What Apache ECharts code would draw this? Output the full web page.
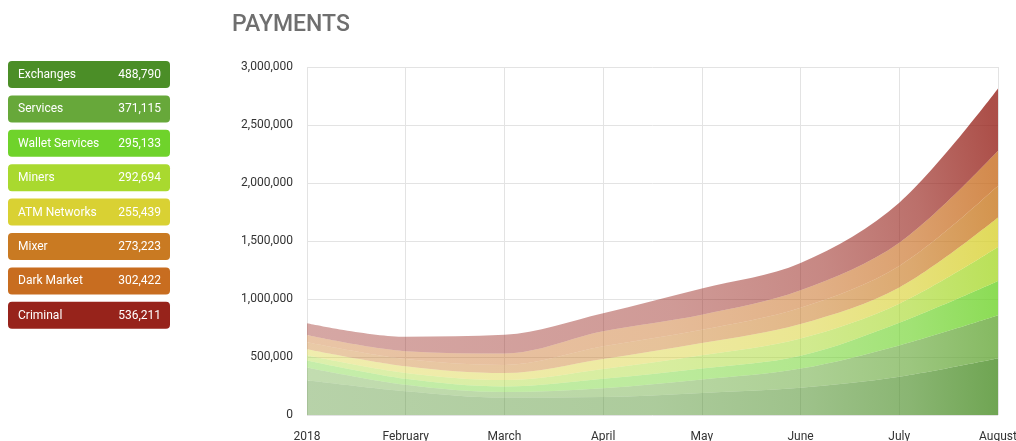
<!DOCTYPE html>
<html>
<head>
<meta charset="utf-8">
<script src="https://cdn.jsdelivr.net/npm/echarts@6/dist/echarts.min.js"></script>
<style>
html,body{margin:0;padding:0;background:#fff;}
#chart{width:1016px;height:441px;}
</style>
</head>
<body>
<div id="chart"></div>
<script>
const categories = ['2018','February','March','April','May','June','July','August'];
const seriesNames = ['Exchanges','Services','Wallet Services','Miners','ATM Networks','Mixer','Dark Market','Criminal'];
const exchanges      = [300000, 205000, 150000, 155000, 190000, 235000, 330000, 488790];
const services       = [110000,  55000,  48000,  75000, 115000, 165000, 270000, 371115];
const walletServices = [ 60000,  52000,  48000,  82000,  95000, 110000, 195000, 295133];
const miners         = [ 45000,  50000,  55000,  85000, 115000, 150000, 165000, 292694];
const atmNetworks    = [ 52000,  58000,  60000,  85000, 105000, 125000, 140000, 255439];
const mixer          = [ 60000,  62000,  70000, 110000, 115000, 140000, 185000, 273223];
const darkMarket     = [ 62000,  68000, 100000, 130000, 130000, 150000, 200000, 302422];
const criminal       = [103000, 125000, 160000, 155000, 225000, 235000, 345000, 536211];
const legendValues   = ['488,790','371,115','295,133','292,694','255,439','273,223','302,422','536,211'];
const colors = ['#4b8e27','#67a83a','#6fd32b','#a9d92f','#d9d133','#c97a22','#c86d20','#97231b'];

const seriesData = [exchanges, services, walletServices, miners, atmNetworks, mixer, darkMarket, criminal];

function rgba(hex, a) {
  const n = parseInt(hex.slice(1), 16);
  return 'rgba(' + ((n >> 16) & 255) + ',' + ((n >> 8) & 255) + ',' + (n & 255) + ',' + a + ')';
}

const chart = echarts.init(document.getElementById('chart'));

const legendGraphics = [];
seriesNames.forEach(function (name, i) {
  const top = 61 + i * 34.4;
  legendGraphics.push({
    type: 'rect',
    left: 8, top: top,
    shape: { width: 162, height: 27, r: 4 },
    style: { fill: colors[i] }
  });
  legendGraphics.push({
    type: 'text',
    left: 18, top: top + 8,
    style: { text: name, fill: '#ffffff', font: '12px Roboto, sans-serif' }
  });
  legendGraphics.push({
    type: 'text',
    right: 1016 - 161, top: top + 8,
    style: { text: legendValues[i], fill: '#ffffff', font: '12px Roboto, sans-serif', textAlign: 'right' }
  });
});

chart.setOption({
  animation: false,
  backgroundColor: '#ffffff',
  title: {
    text: 'PAYMENTS',
    left: 227, top: 9,
    textStyle: { color: '#6f6f6f', fontSize: 23, fontWeight: 500, fontFamily: 'Roboto, sans-serif' }
  },
  graphic: legendGraphics,
  grid: { left: 307, right: 18, top: 67, bottom: 26, containLabel: false, outerBoundsMode: 'none' },
  xAxis: {
    type: 'category',
    data: categories,
    boundaryGap: false,
    axisLine: { show: false },
    axisTick: { show: false },
    axisLabel: { color: '#333333', fontSize: 12, fontFamily: 'Roboto, sans-serif', margin: 16 },
    splitLine: { show: true, lineStyle: { color: '#e3e3e3', width: 1 } }
  },
  yAxis: {
    type: 'value',
    min: 0, max: 3000000, interval: 500000,
    axisLine: { show: false },
    axisTick: { show: false },
    axisLabel: {
      color: '#333333', fontSize: 12, fontFamily: 'Roboto, sans-serif', margin: 14,
      formatter: function (v) { return v.toLocaleString('en-US'); }
    },
    splitLine: { show: true, lineStyle: { color: '#e3e3e3', width: 1 } }
  },
  series: seriesNames.map(function (name, i) {
    return {
      name: name,
      type: 'line',
      stack: 'total',
      smooth: 0.34,
      showSymbol: false,
      symbol: 'none',
      lineStyle: { width: 0 },
      areaStyle: {
        opacity: 1,
        color: {
          type: 'linear', x: 0, y: 0.8, x2: 1, y2: 0.2,
          colorStops: [
            { offset: 0, color: rgba(colors[i], 0.4) },
            { offset: 0.5, color: rgba(colors[i], 0.46) },
            { offset: 0.72, color: rgba(colors[i], 0.54) },
            { offset: 0.87, color: rgba(colors[i], 0.65) },
            { offset: 1, color: rgba(colors[i], 0.8) }
          ]
        }
      },
      data: seriesData[i]
    };
  })
});
</script>
</body>
</html>
